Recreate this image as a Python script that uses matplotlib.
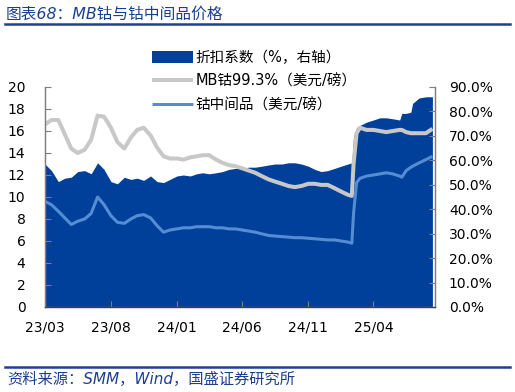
import matplotlib
matplotlib.use("Agg")
import matplotlib.pyplot as plt
import pandas as pd
from matplotlib.patches import Patch

plt.rcParams['font.family'] = ['DejaVu Sans', 'Noto Sans CJK SC']

dates = ["2023-03-01", "2023-03-16", "2023-04-01", "2023-04-16", "2023-05-01", "2023-05-16",
         "2023-06-01", "2023-06-16", "2023-07-01", "2023-07-16", "2023-08-01", "2023-08-16",
         "2023-09-01", "2023-09-16", "2023-10-01", "2023-10-16", "2023-11-01", "2023-11-16",
         "2023-12-01", "2023-12-16", "2024-01-01", "2024-01-16", "2024-02-01", "2024-02-16",
         "2024-03-01", "2024-03-16", "2024-04-01", "2024-04-16", "2024-05-01", "2024-05-16",
         "2024-06-01", "2024-06-16", "2024-07-01", "2024-07-16", "2024-08-01", "2024-08-16",
         "2024-09-01", "2024-09-16", "2024-10-01", "2024-10-16", "2024-11-01", "2024-11-16",
         "2024-12-01", "2024-12-16", "2025-01-01", "2025-01-16", "2025-02-01", "2025-02-10",
         "2025-02-14", "2025-02-21", "2025-03-01", "2025-03-16", "2025-04-01", "2025-04-16",
         "2025-05-01", "2025-05-16", "2025-06-01", "2025-06-06", "2025-06-16", "2025-06-27",
         "2025-07-01", "2025-07-16", "2025-08-01", "2025-08-16"]

discount_pct = [58.5, 55.8, 51.3, 52.7, 53.1, 55.4, 55.8, 54.5, 59.0, 56.3, 51.3, 50.4,
                53.1, 52.2, 52.7, 51.8, 53.6, 51.3, 50.9, 52.2, 53.6, 54.0, 53.6, 54.5,
                54.9, 54.5, 54.9, 55.4, 56.3, 56.7, 56.7, 57.2, 57.2, 57.6, 58.1, 58.5,
                58.5, 59.0, 59.0, 58.5, 57.6, 56.3, 55.4, 55.8, 56.7, 57.6, 58.5, 59.0,
                69.8, 73.4, 74.3, 75.6, 76.5, 77.4, 77.4, 77.0, 76.5, 79.2, 79.2, 79.7,
                83.3, 85.5, 86.0, 86.0]

mb_cobalt = [16.6, 17.0, 17.0, 15.7, 14.4, 14.0, 14.3, 15.2, 17.4, 17.3, 16.3, 15.0,
             14.4, 15.4, 16.1, 16.3, 15.6, 14.5, 13.7, 13.5, 13.5, 13.4, 13.6, 13.7,
             13.8, 13.8, 13.4, 13.1, 12.9, 12.8, 12.6, 12.4, 12.2, 11.9, 11.6, 11.4,
             11.2, 11.0, 10.9, 11.0, 11.2, 11.2, 11.1, 11.1, 10.8, 10.5, 10.2, 10.1,
             13.0, 15.8, 16.3, 16.1, 16.1, 16.0, 15.9, 16.0, 16.1, 16.1, 15.9, 15.8,
             15.8, 15.8, 15.8, 16.2]

intermediate = [9.6, 9.3, 8.7, 8.1, 7.5, 7.8, 8.0, 8.5, 10.0, 9.3, 8.3, 7.7,
                7.6, 8.0, 8.3, 8.4, 8.1, 7.4, 6.8, 7.0, 7.1, 7.2, 7.2, 7.3,
                7.3, 7.3, 7.2, 7.2, 7.1, 7.1, 7.0, 6.9, 6.8, 6.65, 6.5, 6.45,
                6.4, 6.35, 6.3, 6.3, 6.25, 6.2, 6.15, 6.1, 6.1, 6.0, 5.9, 5.8,
                8.5, 11.3, 11.7, 11.9, 12.0, 12.1, 12.2, 12.1, 11.9, 11.8, 12.4, 12.7,
                12.8, 13.1, 13.4, 13.7]

tick_dates = ["2023-03-01", "2023-08-01", "2024-01-01", "2024-06-01", "2024-11-01", "2025-04-01"]
tick_labels = ["23/03", "23/08", "24/01", "24/06", "24/11", "25/04"]
left_ticks = [0, 2, 4, 6, 8, 10, 12, 14, 16, 18, 20]
right_ticks = [0, 10, 20, 30, 40, 50, 60, 70, 80, 90]

labels = ["折扣系数（%，右轴）", "MB钴99.3%（美元/磅）", "钴中间品（美元/磅）"]
title = "图表68：MB钴与钴中间品价格"
source = "资料来源：SMM，Wind，国盛证券研究所"

x = pd.to_datetime(dates)

DARK = '#00409A'
GRAY = '#C8C8C8'
LIGHT = '#548DD4'
TXTBLUE = '#1B3F8F'
FAM = ['DejaVu Sans', 'Noto Sans CJK SC']

fig = plt.figure(figsize=(5.15, 3.92), dpi=100)
ax = fig.add_axes([45/515, 1-307/392, 390/515, 220/392])
ax2 = ax.twinx()

ax2.fill_between(x, 0, discount_pct, color=DARK, linewidth=0)
ax2.set_ylim(0, 90)
ax2.set_yticks(right_ticks)
ax2.set_yticklabels([f"{v:.1f}%" for v in right_ticks])

l1, = ax.plot(x, mb_cobalt, color=GRAY, linewidth=2.9, solid_capstyle='butt')
l2, = ax.plot(x, intermediate, color=LIGHT, linewidth=2.2, solid_capstyle='butt')
ax.set_ylim(0, 20)
ax.set_yticks(left_ticks)
ax.set_xlim(pd.Timestamp("2023-03-01"), pd.Timestamp("2025-08-22"))
ax.set_xticks(pd.to_datetime(tick_dates))
ax.set_xticklabels(tick_labels)

ax.set_zorder(ax2.get_zorder() + 1)
ax.patch.set_visible(False)

spine_col = '#7F7F7F'
for a in (ax, ax2):
    a.spines['top'].set_visible(False)
    for s in ('left', 'right', 'bottom'):
        a.spines[s].set_color(spine_col)
        a.spines[s].set_linewidth(0.9)
ax.spines['bottom'].set_color('#404040')
ax.tick_params(axis='y', direction='in', length=4, color=spine_col, pad=14, labelsize=10)
ax.tick_params(axis='x', direction='in', length=4, color=spine_col, pad=10, labelsize=10)
ax2.tick_params(axis='y', direction='in', length=4, color=spine_col, pad=10, labelsize=10)

handles = [Patch(facecolor=DARK, edgecolor='none'), l1, l2]
leg = fig.legend(handles, labels, loc='upper left', bbox_to_anchor=(152/515, 1-50/392),
                 frameon=False, handlelength=2.8, handleheight=0.82,
                 handletextpad=0.2, labelspacing=0.6, borderaxespad=0, borderpad=0,
                 prop={'family': FAM, 'size': 10.5})

fig.text(6/515, 1-14/392, title, color=TXTBLUE, fontsize=11.3, va='center', ha='left',
         style='italic', family=FAM)
fig.add_artist(plt.Line2D([5/515, 510/515], [1-24/392, 1-24/392], color='#1F3F94', linewidth=1.8))
fig.add_artist(plt.Line2D([5/515, 510/515], [1-367/392, 1-367/392], color='#1F3F94', linewidth=1.8))
fig.text(7/515, 1-379/392, source, color=TXTBLUE, fontsize=11, va='center', ha='left',
         style='italic', family=FAM)

fig.savefig("out.png", dpi=100)
